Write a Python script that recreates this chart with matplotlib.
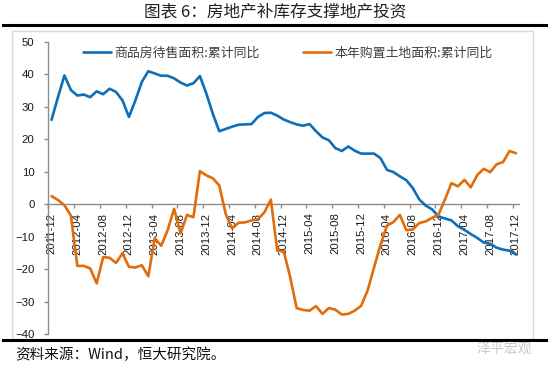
import numpy as np
import matplotlib
matplotlib.use("Agg")
import matplotlib.pyplot as plt
import matplotlib.transforms as mtrans
from matplotlib.patches import Rectangle
from matplotlib.lines import Line2D

plt.rcParams['font.family'] = ['Liberation Sans', 'Noto Sans CJK SC', 'DejaVu Sans']

# ---- data (monthly, 2011-12 .. 2017-12) ----
months = [f"{2011 + (m + 11) // 12}-{(m + 11) % 12 + 1:02d}" for m in range(73)]

inventory_yoy = [
    26.0, 33.0, 39.7, 35.2, 33.5, 33.8, 33.0, 34.8, 33.9, 35.6, 34.6, 32.0,
    26.9, 32.0, 37.7, 41.0, 40.3, 39.6, 39.6, 38.8, 37.5, 36.6, 37.3, 39.5,
    34.1, 27.9, 22.5, 23.2, 23.9, 24.5, 24.6, 24.7, 26.9, 28.1, 28.2, 27.3,
    26.1, 25.3, 24.6, 24.2, 24.7, 22.5, 20.6, 19.7, 17.3, 16.4, 17.8, 16.5,
    15.6, 15.6, 15.6, 14.2, 10.6, 9.9, 8.6, 7.4, 5.0, 1.5, -0.4, -1.6,
    -3.8, -4.4, -5.0, -6.8, -7.9, -9.2, -10.4, -11.8, -12.2, -13.4, -14.0, -14.3,
    -15.5,
]

land_yoy = [
    2.5, 1.3, -0.3, -3.5, -19.0, -19.0, -19.8, -24.4, -16.3, -16.5, -18.1, -15.1,
    -19.3, -19.5, -18.8, -22.2, -10.5, -12.8, -8.0, -1.4, -9.0, -3.3, -4.0, 10.2,
    8.9, 8.0, 5.8, -3.0, -7.5, -5.7, -5.6, -5.0, -4.6, -2.5, 1.4, -14.3,
    -14.5, -22.5, -32.0, -32.6, -32.8, -31.4, -33.8, -32.0, -32.5, -34.0, -33.8, -32.8,
    -31.3, -26.6, -19.5, -12.5, -6.6, -5.5, -3.3, -8.0, -7.8, -5.8, -5.3, -4.2,
    -3.2, 1.5, 6.5, 5.5, 7.5, 5.2, 9.0, 10.9, 9.9, 12.3, 13.0, 16.4,
    15.7,
]

series_names = ["商品房待售面积:累计同比", "本年购置土地面积:累计同比"]
title = "图表 6：房地产补库存支撑地产投资"
source = "资料来源：Wind，恒大研究院。"
watermark = "泽平宏观"

W, H = 550, 368
fig = plt.figure(figsize=(W / 100, H / 100), dpi=100)

def fx(x): return x / W
def fy(y): return 1 - y / H

cjk = ['Noto Sans CJK SC', 'DejaVu Sans']
fig.add_artist(Rectangle((fx(12), fy(339)), fx(533) - fx(12), fy(31) - fy(339),
                         transform=fig.transFigure, fill=False, edgecolor='#D9D9D9', lw=1))
fig.add_artist(Line2D([fx(3), fx(546)], [fy(24.5), fy(24.5)], transform=fig.transFigure,
                      color='black', lw=2.2))
fig.add_artist(Line2D([fx(3), fx(546)], [fy(339.5), fy(339.5)], transform=fig.transFigure,
                      color='black', lw=2.2))
fig.text(fx(275), fy(12), title, ha='center', va='center', fontsize=12,
         family=cjk, color='#222222')
fig.text(fx(15), fy(355), source, ha='left', va='center', fontsize=10.5,
         family=cjk, color='#111111')
fig.text(fx(532), fy(349), watermark, ha='right', va='center', fontsize=10,
         family=cjk, color='#C8C8C8')

ax = fig.add_axes([fx(48.3), fy(334), fx(519.2) - fx(48.3), fy(42) - fy(334)])
for s in ['top', 'right']:
    ax.spines[s].set_visible(False)
ax.spines['bottom'].set_position(('data', 0))
for s in ['left', 'bottom']:
    ax.spines[s].set_color('#8C8C8C')
    ax.spines[s].set_linewidth(1.0)

x = np.arange(len(inventory_yoy)) + 0.5
ax.plot(x, inventory_yoy, color='#0E6EB8', lw=1.9, solid_joinstyle='round',
        solid_capstyle='round', label=series_names[0], zorder=3)
ax.plot(x, land_yoy, color='#E36C0A', lw=1.9, solid_joinstyle='round',
        solid_capstyle='round', label=series_names[1], zorder=3)

ax.set_xlim(0, 73)
ax.set_ylim(-40, 50)
ax.set_yticks(np.arange(-40, 51, 10))
ticks = np.arange(0, 73, 4)
ax.set_xticks(ticks)
ax.set_xticklabels([months[t] for t in ticks])

ax.tick_params(axis='y', direction='out', length=3, width=1, color='#8C8C8C',
               labelsize=8.2, pad=7, labelcolor='#1A1A1A')
ax.tick_params(axis='x', direction='out', length=3, width=1, color='#8C8C8C',
               labelsize=8.2, pad=3, labelcolor='#1A1A1A', labelrotation=90)
off = mtrans.ScaledTranslation(3.0 / 100, 0, fig.dpi_scale_trans)
for lab in ax.get_xticklabels():
    lab.set_rotation(90)
    lab.set_ha('center')
    lab.set_va('top')
    lab.set_transform(lab.get_transform() + off)

leg1 = fig.legend(handles=[ax.get_lines()[0]], labels=[series_names[0]],
                  loc='center left', bbox_to_anchor=(fx(83), fy(53)),
                  bbox_transform=fig.transFigure, frameon=False,
                  handlelength=2.2, handletextpad=0.25, borderpad=0, borderaxespad=0,
                  prop={'family': cjk, 'size': 9.3})
leg2 = fig.legend(handles=[ax.get_lines()[1]], labels=[series_names[1]],
                  loc='center left', bbox_to_anchor=(fx(303), fy(53)),
                  bbox_transform=fig.transFigure, frameon=False,
                  handlelength=2.2, handletextpad=0.25, borderpad=0, borderaxespad=0,
                  prop={'family': cjk, 'size': 9.3})
for leg in (leg1, leg2):
    for t in leg.get_texts():
        t.set_color('#404040')

fig.savefig('out.png', dpi=100, facecolor='white')
